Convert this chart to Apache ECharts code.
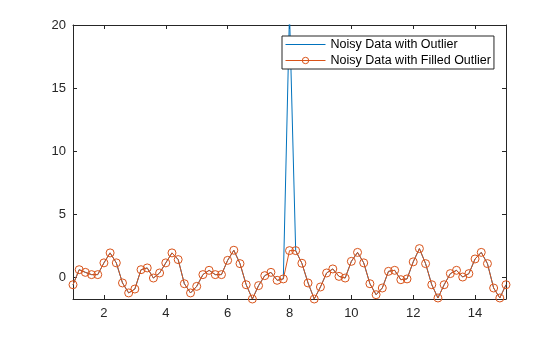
<!DOCTYPE html>
<html>
<head>
<meta charset="utf-8">
<script src="https://cdn.jsdelivr.net/npm/echarts@6/dist/echarts.min.js"></script>
<style>
  html, body { margin: 0; padding: 0; background: #fff; }
  #chart { width: 560px; height: 337px; }
</style>
</head>
<body>
<div id="chart"></div>
<script>
// Sample positions (1 to 15 in steps of 0.2)
const xValues = [
  1.0, 1.2, 1.4, 1.6, 1.8, 2.0, 2.2, 2.4, 2.6, 2.8,
  3.0, 3.2, 3.4, 3.6, 3.8, 4.0, 4.2, 4.4, 4.6, 4.8,
  5.0, 5.2, 5.4, 5.6, 5.8, 6.0, 6.2, 6.4, 6.6, 6.8,
  7.0, 7.2, 7.4, 7.6, 7.8, 8.0, 8.2, 8.4, 8.6, 8.8,
  9.0, 9.2, 9.4, 9.6, 9.8, 10.0, 10.2, 10.4, 10.6, 10.8,
  11.0, 11.2, 11.4, 11.6, 11.8, 12.0, 12.2, 12.4, 12.6, 12.8,
  13.0, 13.2, 13.4, 13.6, 13.8, 14.0, 14.2, 14.4, 14.6, 14.8,
  15.0
];

// Raw measurements, including the spike at x = 8
const noisyData = [
  -0.56, 0.63, 0.42, 0.24, 0.24, 1.17, 1.96, 1.17, -0.42, -1.21,
  -0.90, 0.63, 0.77, -0.03, 0.37, 1.17, 1.96, 1.43, -0.48, -1.21,
  -0.69, 0.24, 0.58, 0.24, 0.24, 1.37, 2.17, 1.11, -0.56, -1.69,
  -0.63, 0.16, 0.42, -0.21, -0.10, 21.0, 2.14, 1.14, -0.42, -1.69,
  -0.74, 0.37, 0.69, 0.10, -0.03, 1.29, 2.00, 1.17, -0.48, -1.35,
  -0.82, 0.50, 0.58, -0.16, -0.10, 1.25, 2.30, 1.11, -0.56, -1.61,
  -0.56, 0.32, 0.58, 0.05, 0.32, 1.48, 2.00, 1.11, -0.82, -1.61,
  -0.56
];

// Same measurements with the outlier replaced
const filledData = [
  -0.56, 0.63, 0.42, 0.24, 0.24, 1.17, 1.96, 1.17, -0.42, -1.21,
  -0.90, 0.63, 0.77, -0.03, 0.37, 1.17, 1.96, 1.43, -0.48, -1.21,
  -0.69, 0.24, 0.58, 0.24, 0.24, 1.37, 2.17, 1.11, -0.56, -1.69,
  -0.63, 0.16, 0.42, -0.21, -0.10, 2.14, 2.14, 1.14, -0.42, -1.69,
  -0.74, 0.37, 0.69, 0.10, -0.03, 1.29, 2.00, 1.17, -0.48, -1.35,
  -0.82, 0.50, 0.58, -0.16, -0.10, 1.25, 2.30, 1.11, -0.56, -1.61,
  -0.56, 0.32, 0.58, 0.05, 0.32, 1.48, 2.00, 1.11, -0.82, -1.61,
  -0.56
];

const xTicks = [2, 4, 6, 8, 10, 12, 14];
const yTicks = [0, 5, 10, 15, 20];
const seriesNames = ['Noisy Data with Outlier', 'Noisy Data with Filled Outlier'];

const X_MIN = 1, X_MAX = 15, Y_MIN = -1.69, Y_MAX = 20;
const AXIS_COLOR = '#262626';
const BLUE = '#0072BD', ORANGE = '#D95319';
const FONT = 'Liberation Sans, Arial, Helvetica, sans-serif';
const openCircle = { color: 'rgba(255,255,255,0)', borderColor: ORANGE, borderWidth: 1 };

const pairs = (ys) => xValues.map((x, i) => [x, ys[i]]);

function makeAxis(kind, position, ticks, min, max, showLabels) {
  return {
    type: 'value',
    position: position,
    min: min,
    max: max,
    axisLine: { show: true, onZero: false, lineStyle: { color: AXIS_COLOR, width: 1 } },
    axisTick: { show: true, inside: true, length: 4, customValues: ticks,
                lineStyle: { color: AXIS_COLOR, width: 1 } },
    axisLabel: { show: showLabels, customValues: ticks, color: AXIS_COLOR,
                 fontFamily: FONT, fontSize: 13, margin: kind === 'x' ? 8 : 7 },
    splitLine: { show: false }
  };
}

const chart = echarts.init(document.getElementById('chart'), null, { renderer: 'canvas' });
chart.setOption({
  animation: false,
  backgroundColor: '#ffffff',
  grid: { left: 73, right: 54, top: 25, bottom: 38, containLabel: false },
  xAxis: [
    makeAxis('x', 'bottom', xTicks, X_MIN, X_MAX, true),
    makeAxis('x', 'top', xTicks, X_MIN, X_MAX, false)
  ],
  yAxis: [
    makeAxis('y', 'left', yTicks, Y_MIN, Y_MAX, true),
    makeAxis('y', 'right', yTicks, Y_MIN, Y_MAX, false)
  ],
  legend: {
    orient: 'vertical',
    left: 282,
    top: 36,
    padding: [2, 3, 2, 3],
    itemGap: 3,
    itemWidth: 40,
    itemHeight: 8,
    backgroundColor: '#ffffff',
    borderColor: AXIS_COLOR,
    borderWidth: 1,
    textStyle: { color: '#000000', fontFamily: FONT, fontSize: 12.5 },
    lineStyle: { width: 1 },
    data: [
      { name: seriesNames[0], itemStyle: { opacity: 0 }, lineStyle: { color: BLUE, width: 1, opacity: 1 } },
      { name: seriesNames[1], itemStyle: openCircle, lineStyle: { color: ORANGE, width: 1 } }
    ]
  },
  series: [
    {
      name: seriesNames[0],
      type: 'line',
      data: pairs(noisyData),
      showSymbol: false,
      symbol: 'none',
      clip: true,
      lineStyle: { color: BLUE, width: 1 },
      itemStyle: { color: BLUE }
    },
    {
      name: seriesNames[1],
      type: 'line',
      data: pairs(filledData),
      symbol: 'circle',
      symbolSize: 8,
      clip: true,
      lineStyle: { color: ORANGE, width: 1 },
      itemStyle: openCircle
    }
  ]
});
</script>
</body>
</html>
